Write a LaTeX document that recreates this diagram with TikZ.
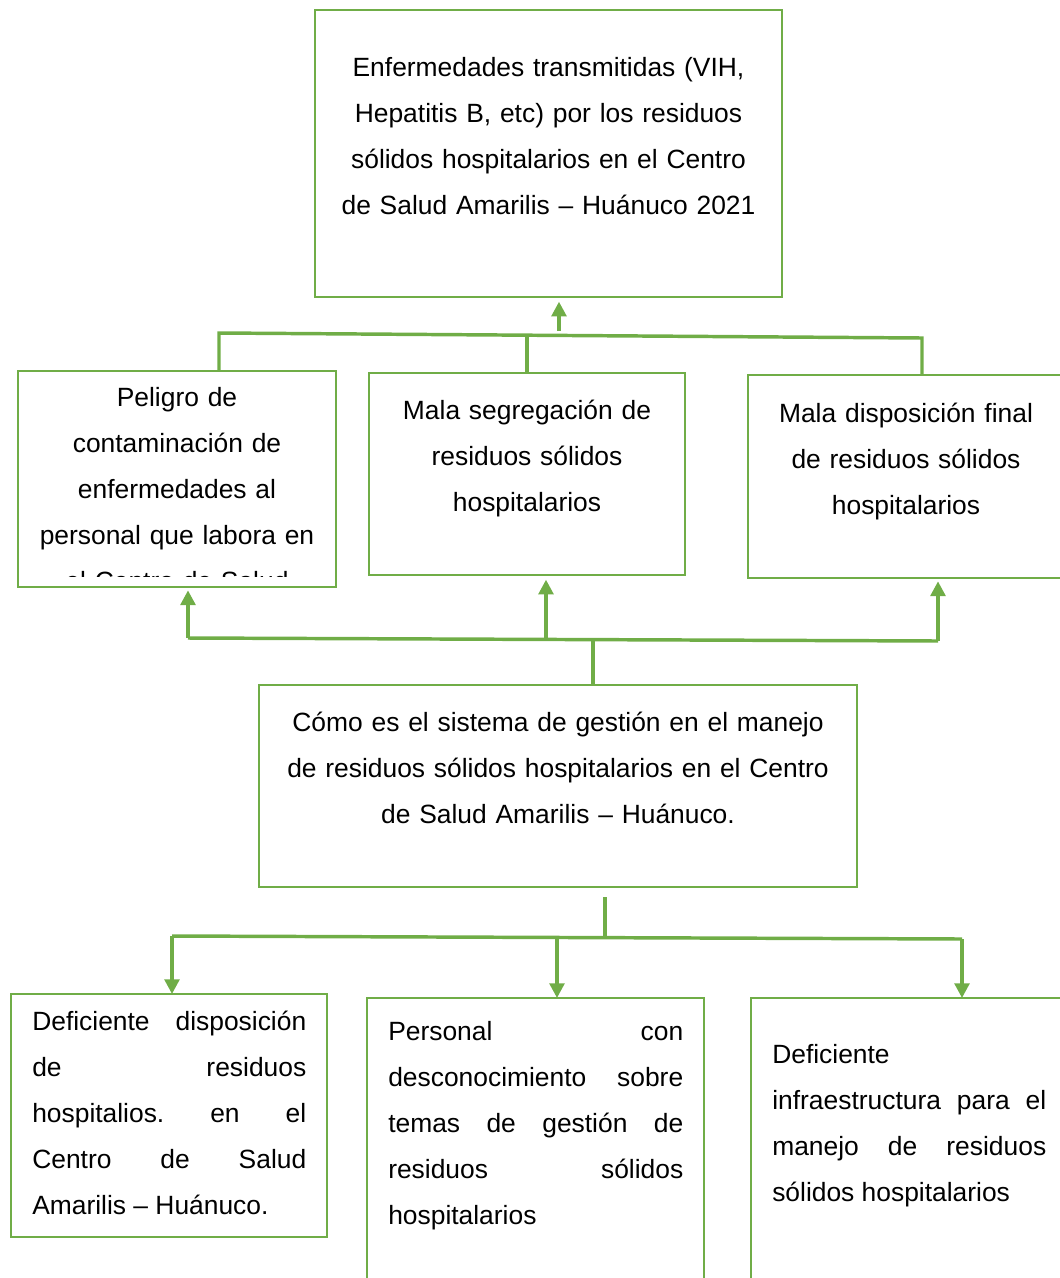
\documentclass[tikz,border=0pt]{standalone}
\usepackage{fontspec}
\setmainfont{Liberation Sans}
\usetikzlibrary{arrows.meta,fit}
\definecolor{verde}{HTML}{70AD47}

\tikzstyle{box} = [draw=verde, line width=1.8pt, inner sep=0pt, outer sep=0pt]
\tikzstyle{txt} = [inner sep=0pt, anchor=base, align=center, font=\fontsize{19.8pt}{34.5pt}\selectfont\frenchspacing]
\tikzstyle{jtxt} = [txt, anchor=base west, align=justify]
\tikzstyle{conn} = [draw=verde, line width=2.6pt]
\tikzstyle{arrow} = [conn, -{Triangle[length=11pt,width=11pt]}]

\begin{document}
\begin{tikzpicture}[x=0.75pt, y=-0.75pt]
\useasboundingbox (0,0) rectangle (1060,1278);
\clip (0,0) rectangle (1060,1278);

% Top box
\node [box, fit={(315,10) (782,297)}] (top) {};
\node [txt, text width=330pt] (toptxt) at (548.5,76) {Enfermedades transmitidas (VIH,\\Hepatitis B, etc) por los residuos\\sólidos hospitalarios en el Centro\\de Salud Amarilis – Huánuco 2021};

% Middle row
\node [box, fit={(18,371) (336,587)}] (lm) {};
\begin{scope}
\clip (18,371) rectangle (336,576);
\node [txt, text width=230pt] (lmtxt) at (177,406) {Peligro de\\contaminación de\\enfermedades al\\personal que labora en\\el Centro de Salud};
\end{scope}
\node [box, fit={(369,373) (685,575)}] (mm) {};
\node [txt, text width=230pt] (mmtxt) at (527,419) {Mala segregación de\\residuos sólidos\\hospitalarios};
\node [box, fit={(748,375) (1064,578)}] (rm) {};
\node [txt, text width=230pt] (rmtxt) at (906,422) {Mala disposición final\\de residuos sólidos\\hospitalarios};

% Centre box
\node [box, fit={(259,685) (857,887)}] (cen) {};
\node [txt, text width=420pt] (centxt) at (558,731) {Cómo es el sistema de gestión en el manejo\\de residuos sólidos hospitalarios en el Centro\\de Salud Amarilis – Huánuco.};

% Bottom row
\node [box, fit={(11,994) (327,1237)}] (bl) {};
\node [jtxt, text width=205.5pt] (bltxt) at (32,1030) {Deficiente disposición\linebreak de residuos\linebreak hospitalios. en el\linebreak Centro de Salud\linebreak Amarilis – Huánuco.};
\node [box, fit={(367,998) (704,1300)}] (bm) {};
\node [jtxt, text width=221.25pt] (bmtxt) at (388,1040) {Personal con\linebreak desconocimiento sobre\linebreak temas de gestión de\linebreak residuos sólidos\linebreak hospitalarios};
\node [box, fit={(751,998) (1067,1300)}] (br) {};
\node [jtxt, text width=205.5pt] (brtxt) at (772,1063) {Deficiente\\infraestructura para el\linebreak manejo de residuos\linebreak sólidos hospitalarios};

% Top bracket
\coordinate (tl) at (219,333);
\coordinate (tr) at (922,338);
\coordinate (tm) at (527,335.5);
\coordinate (ta) at (559,331);
\draw [conn] (lm.north -| tl) -- (tl) -- (tr) -- (rm.north -| tr);
\draw [conn] (mm.north) -- (tm);
\draw [arrow, shorten >=3.5pt] (ta) -- (ta |- top.south);

% Middle bracket
\coordinate (ml) at (188,638);
\coordinate (mr) at (938,641);
\coordinate (mmid) at (546,639.5);
\coordinate (mc) at (593,640.5);
\draw [conn] (ml) -- (mr);
\draw [arrow, shorten >=2.5pt] (ml) -- (lm.south -| ml);
\draw [arrow, shorten >=3.5pt] (mmid) -- (mm.south -| mmid);
\draw [arrow, shorten >=2.5pt] (mr) -- (rm.south -| mr);
\draw [conn] (mc) -- (cen.north -| mc);

% Bottom bracket
\coordinate (bctop) at (605,897);
\coordinate (bc) at (605,937.5);
\coordinate (bl1) at (172,936);
\coordinate (br1) at (962,939);
\coordinate (bm1) at (557,937.5);
\draw [conn] (bctop) -- (bc);
\draw [conn] (bl1) -- (br1);
\draw [arrow] (bl1) -- (bl.north -| bl1);
\draw [arrow] (bm1) -- (bm.north -| bm1);
\draw [arrow] (br1) -- (br.north -| br1);

\end{tikzpicture}
\end{document}
